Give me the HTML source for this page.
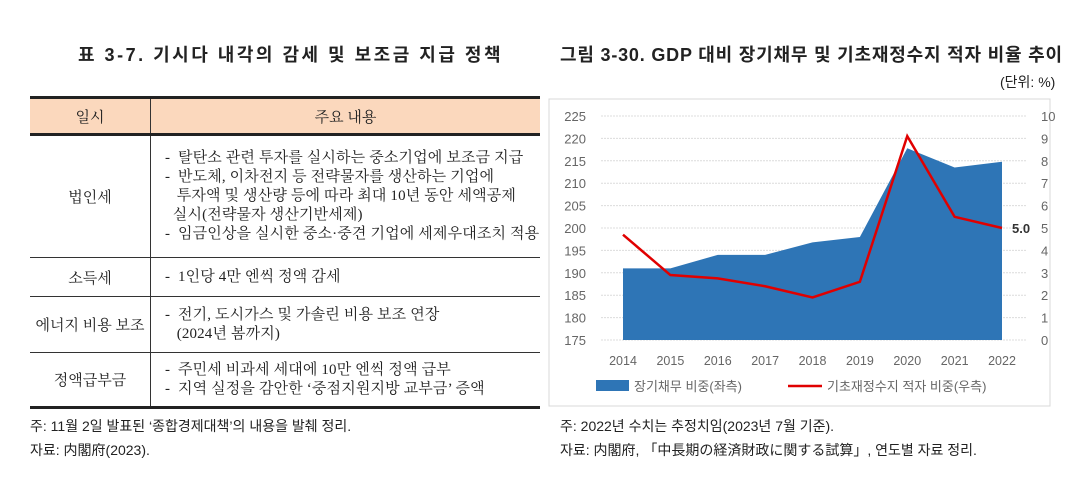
<!DOCTYPE html>
<html><head><meta charset="utf-8"><style>
body{margin:0;width:1091px;height:492px;background:#fff;font-family:"Liberation Sans","Noto Sans CJK KR",sans-serif;color:#222;position:relative;overflow:hidden}
.a{position:absolute;white-space:nowrap}
.t{font-weight:bold;font-size:18px}
table{position:absolute;left:30px;top:96px;width:510px;border-collapse:collapse;font-size:15px;font-family:"Liberation Serif","Noto Serif CJK SC","Noto Sans CJK KR",serif}
td{border-bottom:1px solid #333;padding:0}
td.c{text-align:center;border-right:1px solid #333;width:120px;white-space:nowrap}
td.d{padding-left:14px;line-height:19px;white-space:nowrap;letter-spacing:0.15px}
.n{font-size:14px}
</style></head><body>
<div class="a t" style="left:78px;top:41px;letter-spacing:2.5px">표 3-7. 기시다 내각의 감세 및 보조금 지급 정책</div>
<div class="a t" style="left:560px;top:41px;letter-spacing:0.8px">그림 3-30. GDP 대비 장기채무 및 기초재정수지 적자 비율 추이</div>
<div class="a" style="left:1000px;top:72px;font-size:14px">(단위: %)</div>
<table>
<tr style="background:#fbd8bd;height:37px;border-top:3px solid #222"><td class="c" style="border-bottom:3px solid #222">일시</td><td style="text-align:center;border-bottom:3px solid #222">주요 내용</td></tr>
<tr style="height:123px"><td class="c">법인세</td><td class="d">-&nbsp; 탈탄소 관련 투자를 실시하는 중소기업에 보조금 지급<br>-&nbsp; 반도체, 이차전지 등 전략물자를 생산하는 기업에<br>&nbsp;&nbsp;&nbsp;투자액 및 생산량 등에 따라 최대 10년 동안 세액공제<br>&nbsp;&nbsp;실시(전략물자 생산기반세제)<br>-&nbsp; 임금인상을 실시한 중소·중견 기업에 세제우대조치 적용</td></tr>
<tr style="height:39px"><td class="c">소득세</td><td class="d">-&nbsp; 1인당 4만 엔씩 정액 감세</td></tr>
<tr style="height:56px"><td class="c">에너지 비용 보조</td><td class="d">-&nbsp; 전기, 도시가스 및 가솔린 비용 보조 연장<br>&nbsp;&nbsp;&nbsp;(2024년 봄까지)</td></tr>
<tr style="height:55px;border-bottom:3px solid #222"><td class="c">정액급부금</td><td class="d">-&nbsp; 주민세 비과세 세대에 10만 엔씩 정액 급부<br>-&nbsp; 지역 실정을 감안한 ‘중점지원지방 교부금’ 증액</td></tr>
</table>
<div class="a n" style="left:30px;top:416px">주: 11월 2일 발표된 ‘종합경제대책’의 내용을 발췌 정리.</div>
<div class="a n" style="left:30px;top:440px">자료: 内閣府(2023).</div>
<div class="a n" style="left:560px;top:416px">주: 2022년 수치는 추정치임(2023년 7월 기준).</div>
<div class="a n" style="left:560px;top:440px">자료: 内閣府, 「中長期の経済財政に関する試算」, 연도별 자료 정리.</div>
<svg class="a" style="left:0;top:0" width="1091" height="492">
<rect x="549" y="99" width="501" height="307" fill="none" stroke="#d8d8d8"/>
<g id="g"></g>
</svg>
<script>
const years=["2014","2015","2016","2017","2018","2019","2020","2021","2022"];
const debt=[191,191,194,194,196.8,198,217.8,213.5,214.8];
const deficit=[4.7,2.9,2.75,2.4,1.9,2.6,9.1,5.5,5.0];
const leftTicks=[175,180,185,190,195,200,205,210,215,220,225];
const rightTicks=[0,1,2,3,4,5,6,7,8,9,10];
const NS="http://www.w3.org/2000/svg",g=document.getElementById('g');
const x=i=>623+i*(1002-623)/(years.length-1);
const yl=v=>340-(v-175)*(224/50);
const yr=v=>340-v*22.4;
function mk(t,a,txt){const e=document.createElementNS(NS,t);for(const k in a)e.setAttribute(k,a[k]);if(txt!=null)e.textContent=txt;g.appendChild(e);return e;}
leftTicks.forEach(v=>{
 const l=mk('line',{x1:601,x2:1027,y1:yl(v),y2:yl(v),stroke:'#dcdcdc','stroke-dasharray':'2,1'});
 
 
 const t=mk('text',{x:586,y:yl(v)+5,'text-anchor':'end','font-size':13,fill:'#666'},v);
 
 
});
rightTicks.forEach(v=>{
 const t=mk('text',{x:1041,y:yr(v)+5,'font-size':13,fill:'#666'},v);
 
 
});
let d='M'+x(0)+','+yl(175);
debt.forEach((v,i)=>d+=' L'+x(i)+','+yl(v));
d+=' L'+x(debt.length-1)+','+yl(175)+' Z';
const area=mk('path',{d:d,fill:'#2e75b6'});


const line=mk('polyline',{points:deficit.map((v,i)=>x(i)+','+yr(v)).join(' '),fill:'none',stroke:'#e00000','stroke-width':2.5});


const lab=mk('text',{x:x(8)+10,y:yr(deficit[8])+5,'font-size':13,'font-weight':'bold',fill:'#333'},deficit[8].toFixed(1));


years.forEach((yv,i)=>{
 const t=mk('text',{x:x(i),y:365,'text-anchor':'middle','font-size':12.5,fill:'#666'},yv);
 
 
});
const l1=mk('rect',{x:596,y:380,width:33,height:11,fill:'#2e75b6'});


const l1t=mk('text',{x:634,y:391,'font-size':13,fill:'#666'},'장기채무 비중(좌측)');


const l2=mk('line',{x1:788,x2:822,y1:386,y2:386,stroke:'#e00000','stroke-width':2.5});


const l2t=mk('text',{x:827,y:391,'font-size':13,fill:'#666'},'기초재정수지 적자 비중(우측)');


</script>
</body></html>
